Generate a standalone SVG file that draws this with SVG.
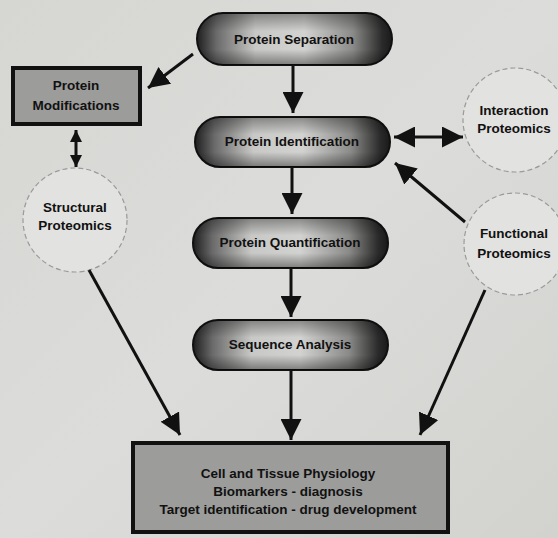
<svg xmlns="http://www.w3.org/2000/svg" width="558" height="538" viewBox="0 0 558 538">
<defs>
<linearGradient id="bg" x1="0" y1="0" x2="1" y2="1">
<stop offset="0" stop-color="#d6d6d3"/><stop offset="0.5" stop-color="#dcdcda"/><stop offset="1" stop-color="#d2d2cf"/>
</linearGradient>
<linearGradient id="pill" x1="0" y1="0" x2="1" y2="0">
<stop offset="0" stop-color="#1e1e1e"/><stop offset="0.1" stop-color="#6a6a6a"/><stop offset="0.3" stop-color="#c8c8c6"/><stop offset="0.55" stop-color="#d2d2d0"/><stop offset="0.8" stop-color="#8a8a88"/><stop offset="0.95" stop-color="#2a2a2a"/><stop offset="1" stop-color="#1a1a1a"/>
</linearGradient>
<linearGradient id="pillv" x1="0" y1="0" x2="0" y2="1">
<stop offset="0" stop-color="#000" stop-opacity="0.35"/><stop offset="0.35" stop-color="#000" stop-opacity="0"/><stop offset="0.7" stop-color="#000" stop-opacity="0"/><stop offset="1" stop-color="#000" stop-opacity="0.4"/>
</linearGradient>
<marker id="ah" viewBox="0 0 10 10" refX="10" refY="5" markerWidth="7" markerHeight="7" orient="auto-start-reverse" markerUnits="strokeWidth">
<path d="M0,0 L10,5 L0,10 Z" fill="#111"/>
</marker>
<marker id="ahs" viewBox="0 0 10 10" refX="10" refY="5" markerWidth="4" markerHeight="4" orient="auto-start-reverse" markerUnits="strokeWidth">
<path d="M0,0 L10,5 L0,10 Z" fill="#111"/>
</marker>
<style>
.pill{fill:url(#pill);stroke:#111;stroke-width:2}
.pillsh{fill:url(#pillv);stroke:none}
.box{fill:#9c9c9a;stroke:#111;stroke-width:4}
.circ{fill:#e2e2e0;stroke:#9a9a98;stroke-width:1.2;stroke-dasharray:5 3}
.t{font-family:"Liberation Sans",Arial,sans-serif;font-weight:bold;fill:#111;text-anchor:middle;font-size:13.5px}
.c{stroke:#111;stroke-width:3;fill:none;marker-end:url(#ah)}
.cc{stroke:#111;stroke-width:3;fill:none;marker-end:url(#ah);marker-start:url(#ah)}
.cs{stroke:#111;stroke-width:3;fill:none;marker-end:url(#ahs);marker-start:url(#ahs)}
</style>
</defs>
<rect width="558" height="538" fill="url(#bg)"/>
<g id="protein-separation">
<rect class="pill" x="197" y="13" width="195" height="52" rx="26"/>
<rect class="pillsh" x="197" y="13" width="195" height="52" rx="26"/>
<text class="t" x="294" y="44">Protein Separation</text>
</g>
<g id="protein-identification">
<rect class="pill" x="195" y="117" width="195" height="50" rx="25"/>
<rect class="pillsh" x="195" y="117" width="195" height="50" rx="25"/>
<text class="t" x="292" y="146">Protein Identification</text>
</g>
<g id="protein-quantification">
<rect class="pill" x="193" y="218" width="195" height="50" rx="25"/>
<rect class="pillsh" x="193" y="218" width="195" height="50" rx="25"/>
<text class="t" x="290" y="247">Protein Quantification</text>
</g>
<g id="sequence-analysis">
<rect class="pill" x="193" y="320" width="195" height="50" rx="25"/>
<rect class="pillsh" x="193" y="320" width="195" height="50" rx="25"/>
<text class="t" x="290" y="349">Sequence Analysis</text>
</g>
<g id="protein-modifications">
<rect class="box" x="13" y="68" width="127" height="56"/>
<text class="t" x="76" y="90">Protein</text>
<text class="t" x="76" y="110">Modifications</text>
</g>
<g id="structural-proteomics">
<circle class="circ" cx="75" cy="220" r="52"/>
<text class="t" x="75" y="212">Structural</text>
<text class="t" x="75" y="230">Proteomics</text>
</g>
<g id="interaction-proteomics">
<circle class="circ" cx="515" cy="120" r="52"/>
<text class="t" x="514" y="115">Interaction</text>
<text class="t" x="514" y="133">Proteomics</text>
</g>
<g id="functional-proteomics">
<circle class="circ" cx="515" cy="244" r="51"/>
<text class="t" x="514" y="238">Functional</text>
<text class="t" x="514" y="258">Proteomics</text>
</g>
<g id="cell-tissue-physiology">
<rect class="box" x="133" y="443" width="315" height="89"/>
<text class="t" x="288" y="478">Cell and Tissue Physiology</text>
<text class="t" x="288" y="496">Biomarkers - diagnosis</text>
<text class="t" x="288" y="514">Target identification - drug development</text>
</g>
<g id="connectors">
<line class="c" x1="193" y1="54" x2="148" y2="88"/>
<line class="c" x1="293" y1="65" x2="293" y2="113"/>
<line class="c" x1="292" y1="167" x2="292" y2="214"/>
<line class="c" x1="291" y1="268" x2="291" y2="317"/>
<line class="c" x1="291" y1="370" x2="291" y2="440"/>
<line class="cc" x1="394" y1="137" x2="463" y2="137"/>
<line class="cs" x1="76" y1="130" x2="76" y2="167"/>
<line class="c" x1="465" y1="222" x2="395" y2="163"/>
<line class="c" x1="89" y1="270" x2="180" y2="435"/>
<line class="c" x1="485" y1="290" x2="420" y2="435"/>
</g>
</svg>
